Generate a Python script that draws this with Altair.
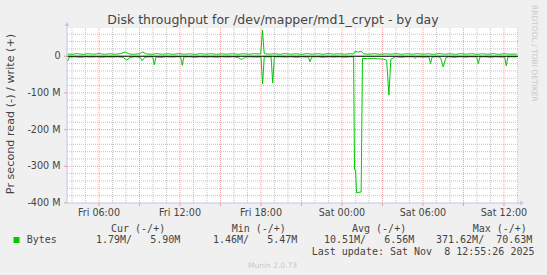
import altair as alt
import pandas as pd

# ---- data (hours since Fri 00:00, values in M bytes/s) ----
write_points = [
    (3.67, 6.2), (4.0, 5.4), (4.4, 7.0), (4.8, 5.2), (5.2, 6.8), (5.6, 5.6), (6.0, 7.2), (6.4, 5.3),
    (6.8, 6.6), (7.2, 5.5), (7.6, 6.9), (7.93, 11.5), (8.25, 6.0), (8.6, 5.4), (9.0, 6.7), (9.24, 12.0),
    (9.5, 6.1), (9.9, 5.3), (10.3, 7.0), (10.7, 5.6), (11.1, 6.7), (11.5, 5.4), (11.9, 7.1), (12.3, 5.5),
    (12.7, 6.6), (13.1, 5.3), (13.5, 6.9), (13.9, 5.7), (14.3, 6.8), (14.7, 5.4), (15.1, 6.5), (15.5, 5.6),
    (15.9, 7.0), (16.3, 5.3), (16.7, 6.7), (17.1, 5.5), (17.5, 6.9), (17.98, 6.0), (18.11, 71.0), (18.24, 7.0),
    (18.6, 5.6), (19.0, 6.8), (19.4, 5.4), (19.8, 7.1), (20.2, 5.5), (20.6, 6.6), (21.0, 5.3), (21.4, 6.9),
    (21.8, 5.7), (22.2, 6.8), (22.6, 5.4), (23.0, 7.2), (23.4, 5.6), (23.8, 6.7), (24.2, 5.5), (24.6, 6.9),
    (24.85, 6.0), (24.95, 12.5), (25.2, 12.0), (25.45, 13.0), (25.6, 6.4), (26.0, 5.6), (26.4, 6.9), (26.8, 5.4),
    (27.2, 6.6), (27.6, 5.7), (28.0, 7.0), (28.4, 5.3), (28.8, 6.7), (29.2, 5.6), (29.6, 6.9), (30.0, 5.5),
    (30.4, 6.6), (30.8, 5.4), (31.2, 7.1), (31.6, 5.6), (32.0, 6.7), (32.4, 5.3), (32.8, 6.9), (33.2, 5.7),
    (33.6, 6.8), (34.0, 5.4), (34.4, 6.6), (34.8, 5.6), (35.2, 7.0), (35.6, 5.4), (36.0, 6.7), (36.4, 5.6),
    (36.95, 5.9),
]

read_points = [
    (3.67, -14), (3.8, -2.5), (4.2, -1.5), (4.6, -3), (5.0, -1.5), (5.4, -2.5), (5.8, -1.5), (6.2, -3),
    (6.6, -1.5), (7.0, -2.5), (7.4, -1.5), (7.8, -3), (8.05, -11), (8.3, -3), (8.7, -1.5), (9.05, -3),
    (9.2, -12), (9.4, -2.5), (9.8, -1.5), (9.98, -2), (10.1, -23), (10.22, -2), (10.6, -3), (11.0, -1.5),
    (11.4, -2.5), (11.8, -1.5), (12.05, -2), (12.17, -25), (12.29, -2), (12.7, -1.5), (13.1, -3), (13.5, -1.5),
    (13.9, -2.5), (14.3, -1.5), (14.7, -3), (15.1, -1.5), (15.5, -2.5), (15.9, -1.5), (16.3, -3), (16.57, -9),
    (16.8, -2.5), (17.2, -1.5), (17.6, -2.5), (18.0, -2), (18.12, -75), (18.24, -2), (18.5, -1.5), (18.75, -2),
    (18.87, -73), (18.99, -2), (19.4, -1.5), (19.8, -2.5), (20.2, -1.5), (20.6, -3), (21.0, -1.5), (21.4, -2.5),
    (21.52, -2), (21.63, -15), (21.76, -2), (22.2, -1.5), (22.6, -3), (23.0, -1.5), (23.4, -2.5), (23.8, -1.5),
    (24.2, -3), (24.6, -1.5), (24.86, -2), (24.93, -309), (25.01, -310), (25.08, -372), (25.25, -371), (25.42, -370),
    (25.52, -6), (25.9, -6.5), (26.3, -5.5), (26.7, -7), (27.1, -8), (27.31, -11), (27.48, -106), (27.62, -8),
    (27.95, -1.5), (28.4, -3), (28.8, -1.5), (29.3, -2), (29.4, -6), (29.55, -1.5), (30.0, -2.5), (30.44, -2),
    (30.56, -20), (30.68, -2), (31.1, -1.5), (31.3, -4), (31.5, -29), (31.7, -4), (31.9, -1.5), (32.3, -3),
    (32.7, -1.5), (33.1, -2.5), (33.5, -1.5), (33.98, -2), (34.1, -20), (34.22, -2), (34.6, -1.5), (35.0, -3),
    (35.4, -1.5), (35.8, -2.5), (36.05, -2), (36.17, -26), (36.29, -2), (36.6, -1.5), (36.95, -1.8),
]

# tick labels
x_label_hours = [6, 12, 18, 24, 30, 36]
x_label_text = ["Fri 06:00", "Fri 12:00", "Fri 18:00", "Sat 00:00", "Sat 06:00", "Sat 12:00"]
y_label_values = [-400, -300, -200, -100, 0]
y_label_text = ["-400 M", "-300 M", "-200 M", "-100 M", "0"]

minor_hours = [h for h in range(4, 38) if h % 3 != 0]
major_hours = [h for h in range(4, 38) if h % 3 == 0]
minor_vals = [v for v in range(-380, 77, 20) if v % 100 != 0]
major_vals = [-300, -200, -100, 0]

NB = "\u00a0"
legend_header = ["Cur (-/+)", "Min (-/+)", "Avg (-/+)", "Max (-/+)"]
legend_values = ["1.79M/   5.90M", "1.46M/   5.47M", "10.51M/   6.56M", "371.62M/  70.63M"]
last_update = "Last update: Sat Nov  8 12:55:26 2025"

# ---- layout ----
LEFT, TOP, W, H = 67, 28, 451, 175
GREEN = "#00CC00"
TXT = "#444444"
GRIDC = "#c4c4c4"
MGRIDC = "#eea0a0"
XDOM = [3.63, 37.04]
YDOM = [-400, 77]

xs = alt.Scale(domain=XDOM, nice=False, zero=False)
ys = alt.Scale(domain=YDOM, nice=False, zero=False)

write_df = pd.DataFrame(write_points, columns=["h", "v"])
read_df = pd.DataFrame(read_points, columns=["h", "v"])


def X(field="h"):
    return alt.X(f"{field}:Q", scale=xs, axis=None)


def Y(field="v"):
    return alt.Y(f"{field}:Q", scale=ys, axis=None)


def vrules(hours, color):
    return alt.Chart(pd.DataFrame({"h": hours})).mark_rule(
        color=color, strokeWidth=1, strokeDash=[1, 1]
    ).encode(x=X())


def hrules(vals, color):
    return alt.Chart(pd.DataFrame({"v": vals})).mark_rule(
        color=color, strokeWidth=1, strokeDash=[1, 1]
    ).encode(y=Y())


def label(text, x, y, size, color=TXT, font="DejaVu Sans", align="left",
          baseline="alphabetic", angle=None):
    kw = dict(align=align, baseline=baseline, font=font, fontSize=size, color=color)
    if angle:
        kw["angle"] = angle
    return alt.Chart(pd.DataFrame({"t": [text.replace(" ", NB)]})).mark_text(**kw).encode(
        x=alt.value(x - LEFT), y=alt.value(y - TOP), text="t:N"
    )


grid_minor_v = vrules(minor_hours, GRIDC)
grid_minor_h = hrules(minor_vals, GRIDC)
grid_major_v = vrules(major_hours, MGRIDC)
grid_major_h = hrules(major_vals, MGRIDC)

# small axis ticks outside the plot
x_ticks = alt.Chart(pd.DataFrame({"h": major_hours})).mark_rule(color=MGRIDC, strokeWidth=1).encode(
    x=X(), y=alt.value(H), y2=alt.value(H + 3)
)
y_ticks = alt.Chart(pd.DataFrame({"v": y_label_values})).mark_rule(color=MGRIDC, strokeWidth=1).encode(
    y=Y(), x=alt.value(-3), x2=alt.value(0)
)

# tick labels through the scales
x_labels = alt.Chart(pd.DataFrame({"h": x_label_hours, "t": x_label_text})).mark_text(
    align="center", baseline="alphabetic", font="DejaVu Sans", fontSize=9.6, color=TXT
).encode(x=X(), y=alt.value(216 - TOP), text="t:N")
y_labels = alt.Chart(pd.DataFrame({"v": y_label_values, "t": y_label_text})).mark_text(
    align="right", baseline="middle", font="DejaVu Sans", fontSize=9.6, color=TXT
).encode(y=Y(), x=alt.value(60.5 - LEFT), text="t:N")

read_line = alt.Chart(read_df).mark_line(color=GREEN, strokeWidth=1).encode(x=X(), y=Y())
write_line = alt.Chart(write_df).mark_line(color=GREEN, strokeWidth=1).encode(x=X(), y=Y())
zero_line = alt.Chart(pd.DataFrame({"v": [0]})).mark_rule(color="#000000", strokeWidth=1).encode(y=Y())

AXC = "#c4c4ec"
one = pd.DataFrame({"k": [0]})
y_axis_line = alt.Chart(one).mark_rule(color=AXC, strokeWidth=1).encode(
    x=alt.value(0), y=alt.value(H), y2=alt.value(-4)
)
x_axis_line = alt.Chart(one).mark_rule(color=AXC, strokeWidth=1).encode(
    x=alt.value(0), x2=alt.value(W + 3), y=alt.value(H)
)
y_arrow = alt.Chart(one).mark_point(shape="triangle-up", filled=True, size=22, color=AXC, opacity=1).encode(
    x=alt.value(0), y=alt.value(-4)
)
x_arrow = alt.Chart(one).mark_point(shape="triangle-right", filled=True, size=22, color=AXC, opacity=1).encode(
    x=alt.value(W + 4), y=alt.value(H)
)

texts = [
    label("Disk throughput for /dev/mapper/md1_crypt - by day", 273, 24, 12.5, align="center"),
    label("Pr second read (-) / write (+)", 11, 114, 11.2, align="center",
          baseline="middle", angle=270),
    label("RRDTOOL / TOBI OETIKER", 534, 5, 7.5, color="#c8c8c8", align="left",
          baseline="middle", angle=90),
    label("Munin 2.0.73", 272.5, 268, 7.5, color="#c8c8c8", align="center"),
    label("Bytes", 26.7, 243.3, 10, font="DejaVu Sans Mono"),
    label(last_update, 311.7, 254.6, 10, font="DejaVu Sans Mono"),
]
for s, x in zip(legend_header, [111, 231.7, 352, 472.7]):
    texts.append(label(s, x, 231.6, 10, font="DejaVu Sans Mono"))
for s, x in zip(legend_values, [96, 213, 324, 436]):
    texts.append(label(s, x, 243.3, 10, font="DejaVu Sans Mono"))

swatch = alt.Chart(one).mark_square(size=36, color=GREEN, opacity=1).encode(
    x=alt.value(16.5 - LEFT), y=alt.value(240 - TOP)
)

chart = alt.layer(
    grid_minor_v, grid_minor_h, grid_major_v, grid_major_h,
    read_line, write_line, zero_line,
    y_axis_line, x_axis_line, y_arrow, x_arrow, x_ticks, y_ticks,
    x_labels, y_labels,
    swatch, *texts,
).properties(
    width=W, height=H,
    autosize=alt.AutoSizeParams(type="none"),
    padding={"left": LEFT, "top": TOP, "right": 547 - LEFT - W, "bottom": 275 - TOP - H},
    background="#F0F0F0",
).configure_view(fill="#FFFFFF", stroke=None)

chart.save("out.html", embed_options={"renderer": "svg", "actions": False})
